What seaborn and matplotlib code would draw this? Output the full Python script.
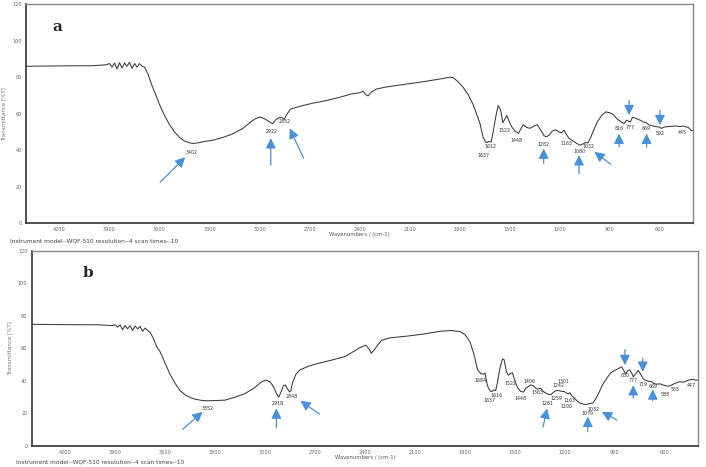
import numpy as np
import pandas as pd
import matplotlib
matplotlib.use("Agg")
import matplotlib.pyplot as plt
import seaborn as sns

# spectrum a
wn_a = [4400, 4200, 4000, 3920, 3900, 3885, 3870, 3855, 3840, 3825, 3810, 3795, 3780, 3765, 3750,
        3735, 3720, 3705, 3690, 3670, 3650, 3630, 3600, 3570, 3540, 3510, 3480, 3450, 3420, 3400,
        3370, 3330, 3280, 3220, 3160, 3100, 3060, 3030, 3000, 2970, 2945, 2922, 2905, 2885, 2865,
        2852, 2838, 2815, 2780, 2740, 2680, 2600, 2520, 2450, 2400, 2380, 2365, 2350, 2330, 2300,
        2250, 2200, 2100, 2000, 1900, 1860, 1840, 1810, 1780, 1750, 1720, 1700, 1680, 1660, 1645,
        1637, 1625, 1612, 1600, 1585, 1570, 1555, 1542, 1530, 1518, 1505, 1490, 1470, 1448, 1435,
        1420, 1400, 1380, 1360, 1335, 1315, 1295, 1282, 1265, 1245, 1225, 1205, 1190, 1175, 1163,
        1145, 1120, 1100, 1080, 1060, 1045, 1032, 1015, 995, 975, 950, 925, 900, 880, 860,
        840, 816, 800, 790, 777, 765, 745, 720, 700, 680, 669, 650, 630, 610, 592,
        570, 540, 510, 480, 460, 445, 430, 415, 400]
t_a = [86, 86.2, 86.3, 86.8, 87.5, 85.5, 87.8, 84.5, 88, 85, 87.8, 86, 88.2, 84.8, 87.5,
       85.5, 87.5, 86, 85.5, 82, 76.5, 72, 65, 59, 54, 50, 47, 45, 44, 43.7,
       44, 44.8, 45.5, 47, 49, 52, 55, 57, 58.2, 57.2, 55.8, 54.5, 56.5, 57.8, 57.8,
       57, 59.5, 62.5, 63.5, 64.5, 65.8, 67.2, 69, 70.8, 71.5, 72.3, 70.5, 69.8, 71.8, 73.5,
       74.5, 75.2, 76.5, 77.8, 79.3, 80, 79.8, 77.5, 74.5, 70.5, 65, 60, 55, 47, 44.5,
       44.2, 44.8, 44.5, 50, 58, 64.5, 62, 55, 57, 59, 56, 53, 50.5, 49.2, 51.5,
       54, 52.5, 52, 53, 54, 51, 48, 47.3, 48.2, 50.5, 51.2, 50, 49.5, 51, 49,
       46.5, 45, 43.8, 42.8, 43.5, 44.2, 44, 47, 51.5, 55.5, 59, 61, 60.5, 59.5, 57.5,
       56, 54.5, 56.5, 56, 55.5, 58, 57.5, 56.5, 55.5, 55, 54, 53.5, 53, 52.8, 52,
       52.8, 53, 53.3, 53, 53.2, 52.8, 52.5, 51, 50.5]

# spectrum b
wn_b = [4400, 4200, 4000, 3920, 3900, 3885, 3870, 3855, 3840, 3825, 3810, 3795, 3780, 3765, 3750,
        3735, 3720, 3705, 3690, 3670, 3650, 3630, 3600, 3570, 3540, 3510, 3480, 3450, 3420, 3380,
        3352, 3300, 3240, 3180, 3120, 3060, 3020, 2995, 2970, 2950, 2930, 2918, 2905, 2890, 2878,
        2865, 2852, 2845, 2835, 2815, 2790, 2740, 2680, 2600, 2520, 2470, 2430, 2395, 2375, 2362,
        2345, 2320, 2300, 2250, 2150, 2050, 1950, 1880, 1830, 1800, 1770, 1745, 1725, 1705, 1690,
        1680, 1665, 1650, 1637, 1625, 1616, 1605, 1590, 1575, 1565, 1552, 1540, 1528, 1515, 1500,
        1485, 1466, 1448, 1435, 1420, 1406, 1390, 1375, 1363, 1345, 1330, 1315, 1300, 1285, 1270,
        1250, 1235, 1220, 1205, 1190, 1180, 1170, 1160, 1148, 1130, 1110, 1090, 1075, 1060, 1045,
        1032, 1015, 995, 975, 950, 925, 900, 880, 860, 845, 835, 822, 812, 800, 790,
        775, 760, 745, 731, 719, 700, 680, 669, 650, 630, 610, 595, 581, 565, 540,
        511, 490, 470, 447, 431, 415, 400]
t_b = [74.8, 74.6, 74.5, 74, 74.5, 73, 74.5, 71.5, 74, 72, 74, 71, 73.8, 72, 73.5,
       70.5, 72.5, 71, 70, 66, 61, 58, 51, 44, 38.5, 34, 31.5, 29.8, 28.8, 28,
       27.8, 27.9, 28.2, 30, 32.2, 36, 39.5, 40.5, 39.5, 36.5, 32, 30, 33, 37, 37.5,
       35, 33.2, 34, 39, 44, 46.8, 49, 50.8, 52.8, 55, 58, 60.5, 62, 59.5, 57,
       59, 62.5, 65, 66.5, 67.5, 68.8, 70.5, 71, 70.3, 68.5, 64, 56, 47, 44.5, 44.2,
       44.8, 37, 33.8, 33.5, 34.5, 34, 39, 48, 53.5, 53, 46, 43.5, 44.5, 45, 40,
       36, 33.5, 33.2, 35.5, 36.5, 37.5, 37, 35.5, 35, 35.5, 33.5, 32.5, 31.8, 31.5, 33,
       34.2, 34, 33.5, 33.5, 32.5, 32, 32.8, 31, 30, 28, 26.3, 25.8, 25.5, 25.8, 26.2,
       26.5, 29, 33, 37.5, 41.5, 45, 46.5, 47.5, 48.7, 46, 44.5, 46.5, 46.8, 45, 42.5,
       44.5, 46.5, 44, 41.5, 40.5, 39.8, 39.5, 38.5, 38, 38.2, 37.5, 37, 36.7, 37.2, 38.5,
       39.5, 39.2, 40, 40.8, 41, 40.5, 40.5]

x_ticks = [4200, 3900, 3600, 3300, 3000, 2700, 2400, 2100, 1800, 1500, 1200, 900, 600]
y_ticks = [0, 20, 40, 60, 80, 100, 120]

# peak labels: (text, x, y)
labels_a = [("3402", 3405, 38.5), ("2922", 2925, 50.5), ("2852", 2850, 55.5),
            ("1637", 1660, 37.3), ("1612", 1618, 42.2), ("1522", 1533, 50.6),
            ("1448", 1459, 45.1), ("1282", 1297, 43.3), ("1163", 1161, 43.7),
            ("1080", 1083, 39.1), ("1032", 1028, 42.2), ("816", 845, 51.9),
            ("777", 779, 52.4), ("669", 680, 51.9), ("592", 600, 49.1), ("445", 467, 49.5)]
labels_b = [("3352", 3345, 23.1), ("2918", 2925, 26.2), ("2848", 2838, 30.3),
            ("1684", 1705, 40.5), ("1637", 1655, 28.2), ("1616", 1611, 31.3),
            ("1522", 1529, 38.4), ("1448", 1466, 29.3), ("1406", 1410, 39.4),
            ("1363", 1367, 32.7), ("1301", 1210, 39.8), ("1242", 1237, 37.0),
            ("1259", 1251, 29.3), ("1163", 1170, 27.8), ("1100", 1192, 24.1),
            ("1261", 1307, 26.2), ("1079", 1063, 20.0), ("1032", 1029, 22.7),
            ("830", 840, 43.1), ("777", 790, 40.0), ("719", 733, 37.9),
            ("669", 673, 36.4), ("588", 595, 31.9), ("555", 541, 34.8), ("447", 441, 37.4)]

# arrows: (tail x, tail y, head x, head y)
arrows_a = [(3596, 22.5, 3446, 36.2), (2933, 31.8, 2933, 46.6), (2736, 35.6, 2820, 52),
            (1297, 32.7, 1297, 40.9), (1085, 27.2, 1085, 37.3), (895, 32.3, 993, 39.1),
            (845, 41.8, 845, 49.1), (785, 67.4, 785, 59.2), (680, 41.8, 680, 49.1),
            (600, 61.9, 600, 53.7)]
arrows_b = [(3494, 10.2, 3375, 21), (2932, 11.2, 2932, 23.1), (2673, 19.6, 2788, 27.8),
            (1332, 11.5, 1307, 23.1), (1063, 8.8, 1063, 18), (889, 16, 979, 21),
            (840, 59.3, 840, 49.7), (790, 29.3, 790, 37.4), (733, 53.8, 733, 45.6),
            (673, 27.8, 673, 34.8)]

sns.set_style("white")
plt.rcParams['font.family'] = ['DejaVu Sans']

fig = plt.figure(figsize=(7.06, 4.67), dpi=100)
ax_a = fig.add_axes([0.037, 0.522, 0.945, 0.469])
ax_b = fig.add_axes([0.045, 0.045, 0.944, 0.418])

arrow_col = "#4a90d9"
line_col = "#3a3a3a"


def draw_panel(ax, wn, t, labels, arrows, letter, letter_xy):
    df = pd.DataFrame({"wn": wn, "t": t})
    sns.lineplot(data=df, x="wn", y="t", ax=ax, color=line_col, lw=0.75, sort=False)
    ax.set_xlim(4400, 400)
    ax.set_ylim(0, 120)
    ax.set_xticks(x_ticks)
    ax.set_yticks(y_ticks)
    ax.tick_params(length=0, labelsize=3.6, labelcolor="#666666", pad=3)
    ax.set_xlabel("Wavenumbers / (cm-1)", fontsize=3.8, color="#555555", labelpad=0)
    ax.set_ylabel("Transmittance [%T]", fontsize=4, color="#777777", labelpad=4)
    for side in ["left", "bottom"]:
        ax.spines[side].set_color("#333333")
        ax.spines[side].set_linewidth(1.2)
    for side in ["top", "right"]:
        ax.spines[side].set_color("#888888")
        ax.spines[side].set_linewidth(1.0)
    for txt, x, y in labels:
        ax.text(x, y, txt, fontsize=3.4, color="#333333", ha="center", va="center")
    for x0, y0, x1, y1 in arrows:
        ax.annotate("", xy=(x1, y1), xytext=(x0, y0),
                    arrowprops=dict(arrowstyle="-|>,head_length=0.6,head_width=0.3",
                                    color=arrow_col, lw=0.9, shrinkA=0, shrinkB=0))
    ax.text(letter_xy[0], letter_xy[1], letter, transform=ax.transAxes,
            fontsize=11, fontweight="bold", family="DejaVu Serif", ha="center", va="center")


draw_panel(ax_a, wn_a, t_a, labels_a, arrows_a, "a", (0.047, 0.895))
draw_panel(ax_b, wn_b, t_b, labels_b, arrows_b, "b", (0.085, 0.885))

fig.text(0.014, 0.484, "Instrument model--WQF-510 resolution--4 scan times--10",
         fontsize=4.2, color="#444444", va="center")
fig.text(0.022, 0.011, "Instrument model--WQF-510 resolution--4 scan times--10",
         fontsize=4.2, color="#444444", va="center")

fig.savefig("out.png", dpi=100)
